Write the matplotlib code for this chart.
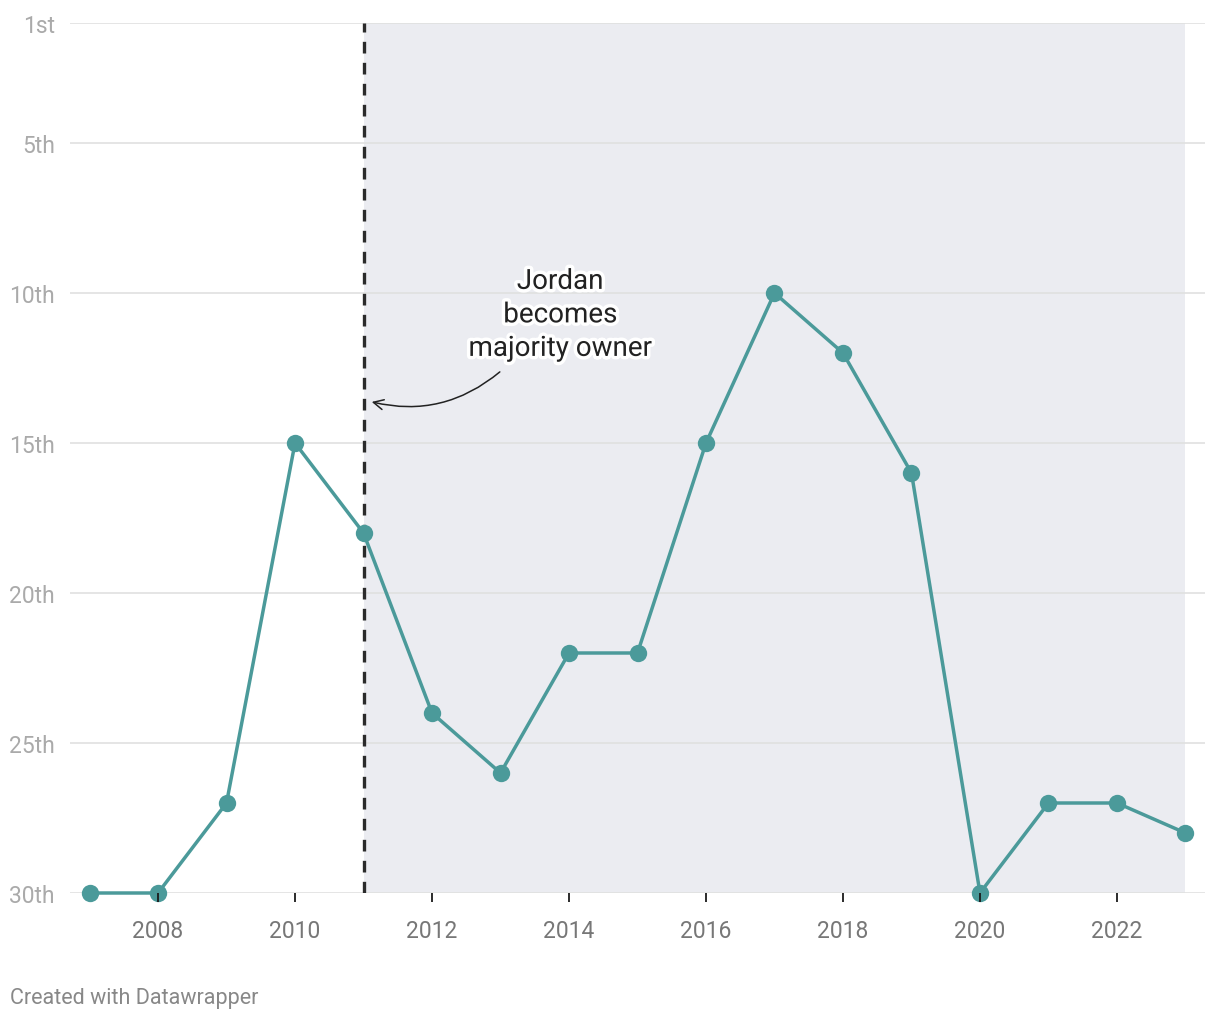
import matplotlib.pyplot as plt
import matplotlib.patheffects as pe

plt.rcParams['font.family'] = ['Roboto', 'DejaVu Sans']

# Hornets league finish by season
years = [2007, 2008, 2009, 2010, 2011, 2012, 2013, 2014, 2015, 2016, 2017, 2018, 2019, 2020, 2021, 2022, 2023]
rank = [30, 30, 27, 15, 18, 24, 26, 22, 22, 15, 10, 12, 16, 30, 27, 27, 28]

rank_ticks = [1, 5, 10, 15, 20, 25, 30]
rank_labels = ['1st', '5th', '10th', '15th', '20th', '25th', '30th']
year_ticks = [2008, 2010, 2012, 2014, 2016, 2018, 2020, 2022]

owner_year = 2011
note = 'Jordan\nbecomes\nmajority owner'

teal = '#4b9a9a'

fig = plt.figure(figsize=(12.2, 10.2), dpi=100)
ax = fig.add_axes([70 / 1220, 126 / 1020, 1135 / 1220, 870 / 1020])

ax.set_xlim(2006.715, 2023.285)
ax.set_ylim(30, 1)

# shaded era after the ownership change
ax.axvspan(owner_year, years[-1], color='#ebecf1', zorder=0, lw=0)

# gridlines
for r in rank_ticks:
    ax.axhline(r, color='#e0e0e0', lw=1.2, zorder=0.5)

ax.axvline(owner_year, color='#2b2b2b', lw=2.4, dashes=(3.5, 2.8), zorder=1.8)

ax.plot(years, rank, color=teal, lw=2.5, marker='o', ms=12.5,
        markeredgewidth=0, zorder=2, clip_on=False)

ax.annotate('', xy=(2011.12, 13.63), xytext=(2012.99, 12.63),
            arrowprops=dict(arrowstyle='->', color='#222222', lw=1.1,
                            connectionstyle='arc3,rad=-0.25',
                            mutation_scale=18, shrinkA=0, shrinkB=0),
            zorder=3)
ax.text(2013.87, 10.73, note, ha='center', va='center', fontsize=20,
        color='#222222', linespacing=1.31, zorder=4,
        path_effects=[pe.withStroke(linewidth=5, foreground='white')])

ax.set_yticks(rank_ticks)
ax.set_yticklabels(rank_labels)
ax.set_xticks(year_ticks)
ax.set_xticklabels([str(y) for y in year_ticks])

ax.tick_params(axis='y', length=0, pad=11, labelsize=16.5, labelcolor='#aaaaaa')
ax.tick_params(axis='x', length=6.5, width=1.3, color='#1a1a1a', pad=12,
               labelsize=16.5, labelcolor='#777777')
ax.set_axisbelow(False)

for s in ax.spines.values():
    s.set_visible(False)
ax.patch.set_alpha(0)

fig.text(10 / 1220, 1 - 999 / 1020, 'Created with Datawrapper', fontsize=15.5,
         color='#888888', ha='left', va='center')

fig.savefig('out.png', dpi=100, facecolor='white')
